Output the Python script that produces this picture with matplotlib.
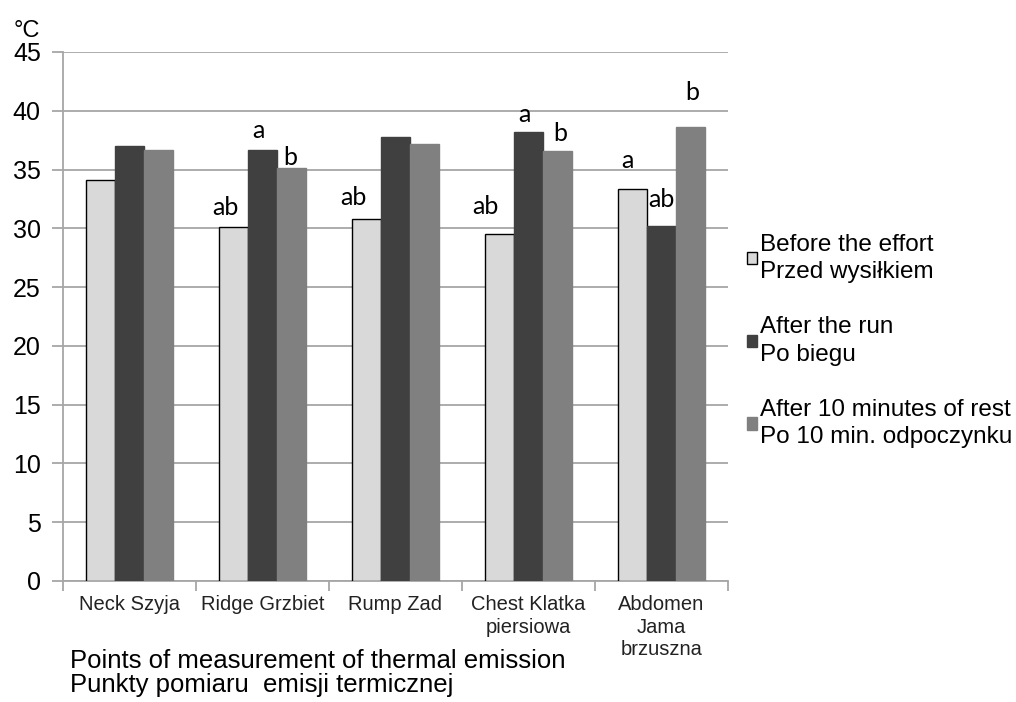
import numpy as np
import matplotlib
matplotlib.use("Agg")
import matplotlib.pyplot as plt

plt.rcParams['font.family'] = ['Liberation Sans', 'DejaVu Sans']

# data
categories = ['Neck Szyja', 'Ridge Grzbiet', 'Rump Zad',
              'Chest Klatka\npiersiowa', 'Abdomen\nJama\nbrzuszna']
before = [34.1, 30.1, 30.8, 29.5, 33.3]
after_run = [37.0, 36.7, 37.8, 38.2, 30.2]
after_rest = [36.7, 35.1, 37.2, 36.6, 38.6]
series_names = ['Before the effort\nPrzed wysiłkiem',
                'After the run\nPo biegu',
                'After 10 minutes of rest\nPo 10 min. odpoczynku']

# significance letters: (category index, series index, letter)
letters = [(1, 0, 'ab'), (1, 1, 'a'), (1, 2, 'b'),
           (2, 0, 'ab'),
           (3, 0, 'ab'), (3, 1, 'a'), (3, 2, 'b'),
           (4, 0, 'a'), (4, 1, 'ab'), (4, 2, 'b')]
# label offsets in pixels (dx, dy) from bar top to baseline
letter_offsets = [(-8, 12), (-4, 12), (-1, 3),
                  (-13, 14),
                  (-14, 20), (-4, 10), (3, 10),
                  (-5, 21), (0, 19), (2, 27)]

colors = ['#d9d9d9', '#404040', '#808080']
edges = ['black', '#404040', '#808080']

fig = plt.figure(figsize=(10.16, 7.02), dpi=100)
ax = fig.add_axes([0.062, 0.1724, 0.6545, 0.7536])

x = np.arange(len(categories)) + 0.5
w = 0.218
all_series = [before, after_run, after_rest]
for i, vals in enumerate(all_series):
    ax.bar(x + (i - 1) * w, vals, w, color=colors[i], edgecolor=edges[i],
           linewidth=1.0, label=series_names[i], zorder=3)

for (ci, si, txt), (dx, dy) in zip(letters, letter_offsets):
    val = all_series[si][ci]
    ax.annotate(txt, (x[ci] + (si - 1) * w, val), xytext=(dx, dy),
                textcoords='offset pixels', ha='center', va='baseline',
                fontsize=18, family=['Lato', 'DejaVu Sans'], color='black')

ax.set_xlim(0, len(categories))
ax.set_ylim(0, 45)
ax.set_yticks(np.arange(0, 46, 5))
ax.yaxis.grid(True, color='#a6a6a6', linewidth=1.3, zorder=0)
ax.set_axisbelow(True)
ax.tick_params(axis='y', labelsize=18, length=8, width=1.3, color='#a6a6a6', pad=8)

ax.set_xticks(np.arange(0, len(categories) + 1))
ax.set_xticklabels([])
ax.set_xticks(x, minor=True)
ax.set_xticklabels(categories, minor=True, fontsize=14.5, color='#222222',
                   linespacing=1.25)
ax.tick_params(axis='x', which='major', length=7, width=1.3, color='#a6a6a6')
ax.tick_params(axis='x', which='minor', length=0, pad=10)

for s in ['top', 'right']:
    ax.spines[s].set_visible(False)
for s in ['left', 'bottom']:
    ax.spines[s].set_color('#a6a6a6')
    ax.spines[s].set_linewidth(1.3)

fig.text(0.013, 0.948, '°C', fontsize=17)
# baseline of the last line
fig.text(0.069, 1 - 692 / 702, 'Points of measurement of thermal emission\nPunkty pomiaru  emisji termicznej',
         fontsize=18.5, ha='left', va='baseline', linespacing=1.0)

handles, labels = ax.get_legend_handles_labels()
leg = fig.legend(handles, labels, loc='center left',
                 bbox_to_anchor=(747 / 1016, 1 - 341 / 702),
                 bbox_transform=fig.transFigure, frameon=False,
                 fontsize=17.5, handlelength=0.4, handleheight=0.4,
                 handletextpad=0.15, labelspacing=1.38, borderpad=0, borderaxespad=0)
for t in leg.get_texts():
    t.set_linespacing(1.3)

fig.savefig('out.png', dpi=100)
